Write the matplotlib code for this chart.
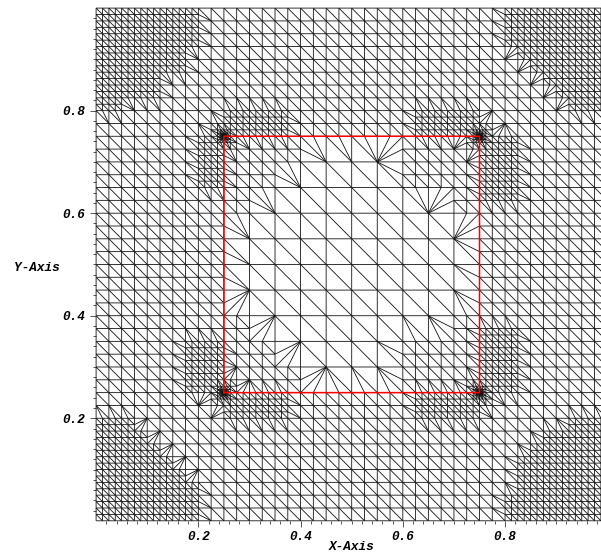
#! /usr/bin/env python3
# coding:utf-8

import numpy as np
import matplotlib
matplotlib.use('Agg')
import matplotlib.pyplot as plt
from matplotlib.collections import LineCollection

# red square
red_x = [0.25, 0.75, 0.75, 0.25, 0.25]
red_y = [0.25, 0.25, 0.75, 0.75, 0.25]

# fine corner patches, width of each row counted in 1/40 cells, outermost row first
top_left_rows = [8, 8, 8, 7, 7, 5, 5, 2]
top_right_rows = [8, 8, 8, 7, 6, 5, 4, 3]
bottom_left_rows = [8, 8, 8, 7, 6, 5, 4, 3]
bottom_right_rows = [8, 8, 7, 7, 7, 6, 5, 3]

# refinement boxes: x0, x1, y0, y1
bands_80 = [
    (0.25, 0.375, 0.75, 0.80), (0.20, 0.25, 0.65, 0.75),
    (0.625, 0.75, 0.75, 0.80), (0.75, 0.825, 0.625, 0.75),
    (0.175, 0.25, 0.25, 0.35), (0.25, 0.375, 0.20, 0.25),
    (0.75, 0.825, 0.25, 0.375), (0.625, 0.75, 0.20, 0.25),
]
bands_40 = [
    (0.25, 0.40, 0.70, 0.75), (0.25, 0.35, 0.65, 0.70), (0.25, 0.30, 0.60, 0.65),
    (0.60, 0.75, 0.70, 0.75), (0.60, 0.75, 0.65, 0.70), (0.70, 0.75, 0.60, 0.65),
    (0.25, 0.40, 0.25, 0.30), (0.25, 0.35, 0.30, 0.35), (0.25, 0.30, 0.35, 0.40),
    (0.60, 0.75, 0.25, 0.30), (0.60, 0.75, 0.30, 0.35), (0.70, 0.75, 0.35, 0.40),
]
outside_strips = [(0, 0.25, 0, 1), (0.75, 1, 0, 1), (0, 1, 0, 0.25), (0, 1, 0.75, 1)]
corner_x = [0.25, 0.75]
corner_y = [0.25, 0.75]
# half width of the box around each red corner, and the 1/n cell used in it
corner_half = [0.025, 0.0125, 0.00625, 0.003]
corner_div = [80, 160, 320, 640]

major_ticks = [0.2, 0.4, 0.6, 0.8]
minor_ticks = [0.02, 0.04, 0.06, 0.08, 0.10, 0.12, 0.14, 0.16, 0.18, 0.22, 0.24, 0.26, 0.28, 0.30,
               0.32, 0.34, 0.36, 0.38, 0.42, 0.44, 0.46, 0.48, 0.50, 0.52, 0.54, 0.56, 0.58,
               0.62, 0.64, 0.66, 0.68, 0.70, 0.72, 0.74, 0.76, 0.78, 0.82, 0.84, 0.86, 0.88,
               0.90, 0.92, 0.94, 0.96, 0.98]

UNIT = 1280  # all mesh nodes sit on this integer lattice


def add_boxes(boxes, out, div):
    for x0, x1, y0, y1 in boxes:
        out.append((round(x0*UNIT), round(x1*UNIT), round(y0*UNIT), round(y1*UNIT), UNIT//div))


def build_refinement():
    out = []
    add_boxes(outside_strips, out, 40)
    add_boxes(bands_40, out, 40)
    add_boxes(bands_80, out, 80)
    for i, n in enumerate(top_left_rows):
        add_boxes([(0, n/40, 1-(i+1)/40, 1-i/40)], out, 80)
    for i, n in enumerate(top_right_rows):
        add_boxes([(1-n/40, 1, 1-(i+1)/40, 1-i/40)], out, 80)
    for i, n in enumerate(bottom_left_rows):
        add_boxes([(0, n/40, i/40, (i+1)/40)], out, 80)
    for i, n in enumerate(bottom_right_rows):
        add_boxes([(1-n/40, 1, i/40, (i+1)/40)], out, 80)
    for cx in corner_x:
        for cy in corner_y:
            for h, div in zip(corner_half, corner_div):
                add_boxes([(cx-h, cx+h, cy-h, cy+h)], out, div)
    return out


def split_cell(x, y, size, boxes, leaves):
    for x0, x1, y0, y1, want in boxes:
        if size > want and x < x1 and x+size > x0 and y < y1 and y+size > y0:
            half = size//2
            split_cell(x, y, half, boxes, leaves)
            split_cell(x+half, y, half, boxes, leaves)
            split_cell(x, y+half, half, boxes, leaves)
            split_cell(x+half, y+half, half, boxes, leaves)
            return
    leaves.append((x, y, size))


def mesh_segments():
    boxes = build_refinement()
    leaves = []
    root = UNIT//20
    for x in range(0, UNIT, root):
        for y in range(0, UNIT, root):
            split_cell(x, y, root, boxes, leaves)

    nodes = set()
    for x, y, s in leaves:
        nodes.update([(x, y), (x+s, y), (x, y+s), (x+s, y+s)])

    segs = set()
    for x, y, s in leaves:
        step = 2
        # edges counter clockwise, hanging nodes picked up from the neighbours
        bottom = [(x+d, y) for d in range(step, s, step) if (x+d, y) in nodes]
        right = [(x+s, y+d) for d in range(step, s, step) if (x+s, y+d) in nodes]
        top = [(x+d, y+s) for d in range(step, s, step) if (x+d, y+s) in nodes]
        left = [(x, y+d) for d in range(step, s, step) if (x, y+d) in nodes]
        bl, br, tr, tl = (x, y), (x+s, y), (x+s, y+s), (x, y+s)

        for a, mid, b in [(bl, bottom, br), (br, right, tr), (tl, top, tr), (bl, left, tl)]:
            chain = [a]+mid+[b]
            for p, q in zip(chain[:-1], chain[1:]):
                segs.add((p, q))

        if not (bottom or right or top or left):
            segs.add((tl, br))
            continue

        # fan from the corner that touches the fewest hanging nodes
        options = [(tl, top, left, bottom+right, [br]),
                   (br, bottom, right, top+left, [tl]),
                   (tr, top, right, bottom+left, [bl]),
                   (bl, bottom, left, top+right, [tr])]
        options.sort(key=lambda o: len(o[1])+len(o[2]))
        apex, _, _, far, opposite = options[0]
        for p in far+opposite:
            segs.add((apex, p))
    return [[(p[0]/UNIT, p[1]/UNIT), (q[0]/UNIT, q[1]/UNIT)] for p, q in segs]


fig = plt.figure(figsize=(6.01, 5.57), dpi=100)
ax = fig.add_axes([96.1/601, (557-520.8)/557, (601-96.1)/601, (520.8-8.1)/557])
ax.set_xlim(0, (601-96.1)/511.2)
ax.set_ylim(0, 1)

lines = LineCollection(mesh_segments(), colors='#111111', linewidths=0.6, clip_on=False, zorder=2)
lines.set_snap(False)
ax.add_collection(lines)
ax.plot(red_x, red_y, color='red', lw=1.1, zorder=3, clip_on=True, snap=False)

for s in ax.spines.values():
    s.set_visible(False)

tick_font = dict(family='Liberation Mono', weight='bold', style='italic', size=9.2)
ax.set_xticks(major_ticks)
ax.set_yticks(major_ticks)
ax.set_xticks(minor_ticks, minor=True)
ax.set_yticks(minor_ticks, minor=True)
ax.set_xticklabels(['0.2', '0.4', '0.6', '0.8'], **tick_font)
ax.set_yticklabels(['0.2', '0.4', '0.6', '0.8'], **tick_font)
ax.tick_params(which='major', length=4.5, width=0.7, color='#555555', pad=3)
ax.tick_params(which='minor', length=2.2, width=0.7, color='#555555')
ax.tick_params(axis='y', which='major', pad=3.5)

fig.text(352/601, 1-547/557, 'X-Axis', ha='center', va='center', **tick_font)
fig.text(37/601, 1-268/557, 'Y-Axis', ha='center', va='center', **tick_font)

plt.savefig('out.png', dpi=100)
